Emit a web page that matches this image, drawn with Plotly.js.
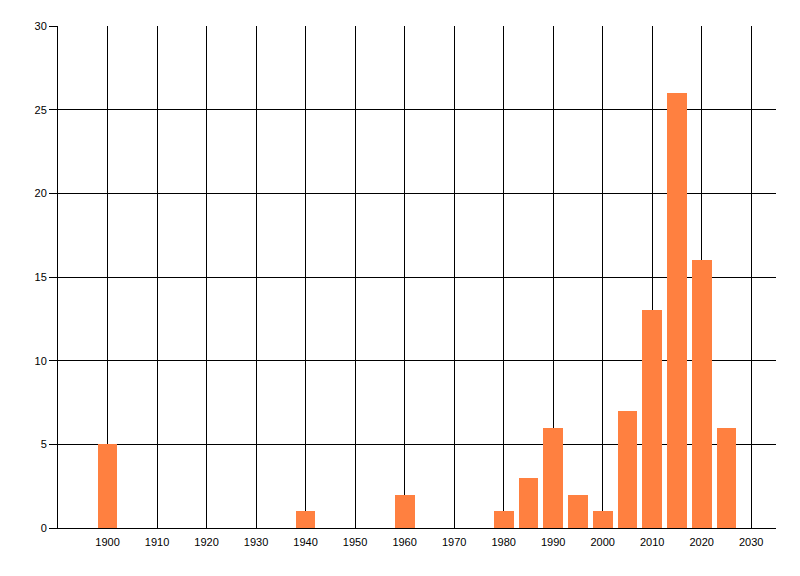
<!DOCTYPE html>
<html>
<head>
<meta charset="utf-8">
<script src="https://cdn.plot.ly/plotly-3.0.1.min.js"></script>
<style>
  html, body { margin: 0; padding: 0; background: #fff; }
  #chart { width: 800px; height: 576px; }
</style>
</head>
<body>
<div id="chart"></div>
<script>
  // bar positions (year) and counts
  const years = [1900, 1940, 1960, 1980, 1985, 1990, 1995, 2000, 2005, 2010, 2015, 2020, 2025];
  const counts = [5, 1, 2, 1, 3, 6, 2, 1, 7, 13, 26, 16, 6];
  const xTicks = [1900, 1910, 1920, 1930, 1940, 1950, 1960, 1970, 1980, 1990, 2000, 2010, 2020, 2030];
  const yTicks = [0, 5, 10, 15, 20, 25, 30];

  const barColor = '#FF8040';
  const font = { family: '"Liberation Sans", Arial, sans-serif', size: 11, color: '#000' };

  Plotly.newPlot('chart', [{
    type: 'bar',
    x: years,
    y: counts,
    width: 4,
    marker: { color: barColor, line: { width: 0 } },
    hoverinfo: 'x+y',
  }], {
    width: 800,
    height: 576,
    margin: { l: 58, r: 24, t: 26, b: 48, pad: 0 },
    paper_bgcolor: '#fff',
    plot_bgcolor: '#fff',
    font: font,
    showlegend: false,
    bargap: 0,
    xaxis: {
      range: [1890, 2035],
      tickvals: xTicks,
      ticktext: xTicks.map(String),
      showgrid: true,
      gridcolor: '#000',
      gridwidth: 1,
      zeroline: false,
      showline: true,
      linecolor: '#000',
      linewidth: 1,
      ticks: 'outside',
      ticklen: 4,
      tickcolor: 'rgba(0,0,0,0)',
      tickfont: font,
    },
    yaxis: {
      range: [0, 30],
      tickvals: yTicks,
      showgrid: true,
      gridcolor: '#000',
      gridwidth: 1,
      zeroline: false,
      showline: true,
      linecolor: '#000',
      linewidth: 1,
      ticks: 'outside',
      ticklen: 8,
      tickcolor: '#000',
      tickfont: font,
    },
  }, { displayModeBar: false, staticPlot: true });
</script>
</body>
</html>
